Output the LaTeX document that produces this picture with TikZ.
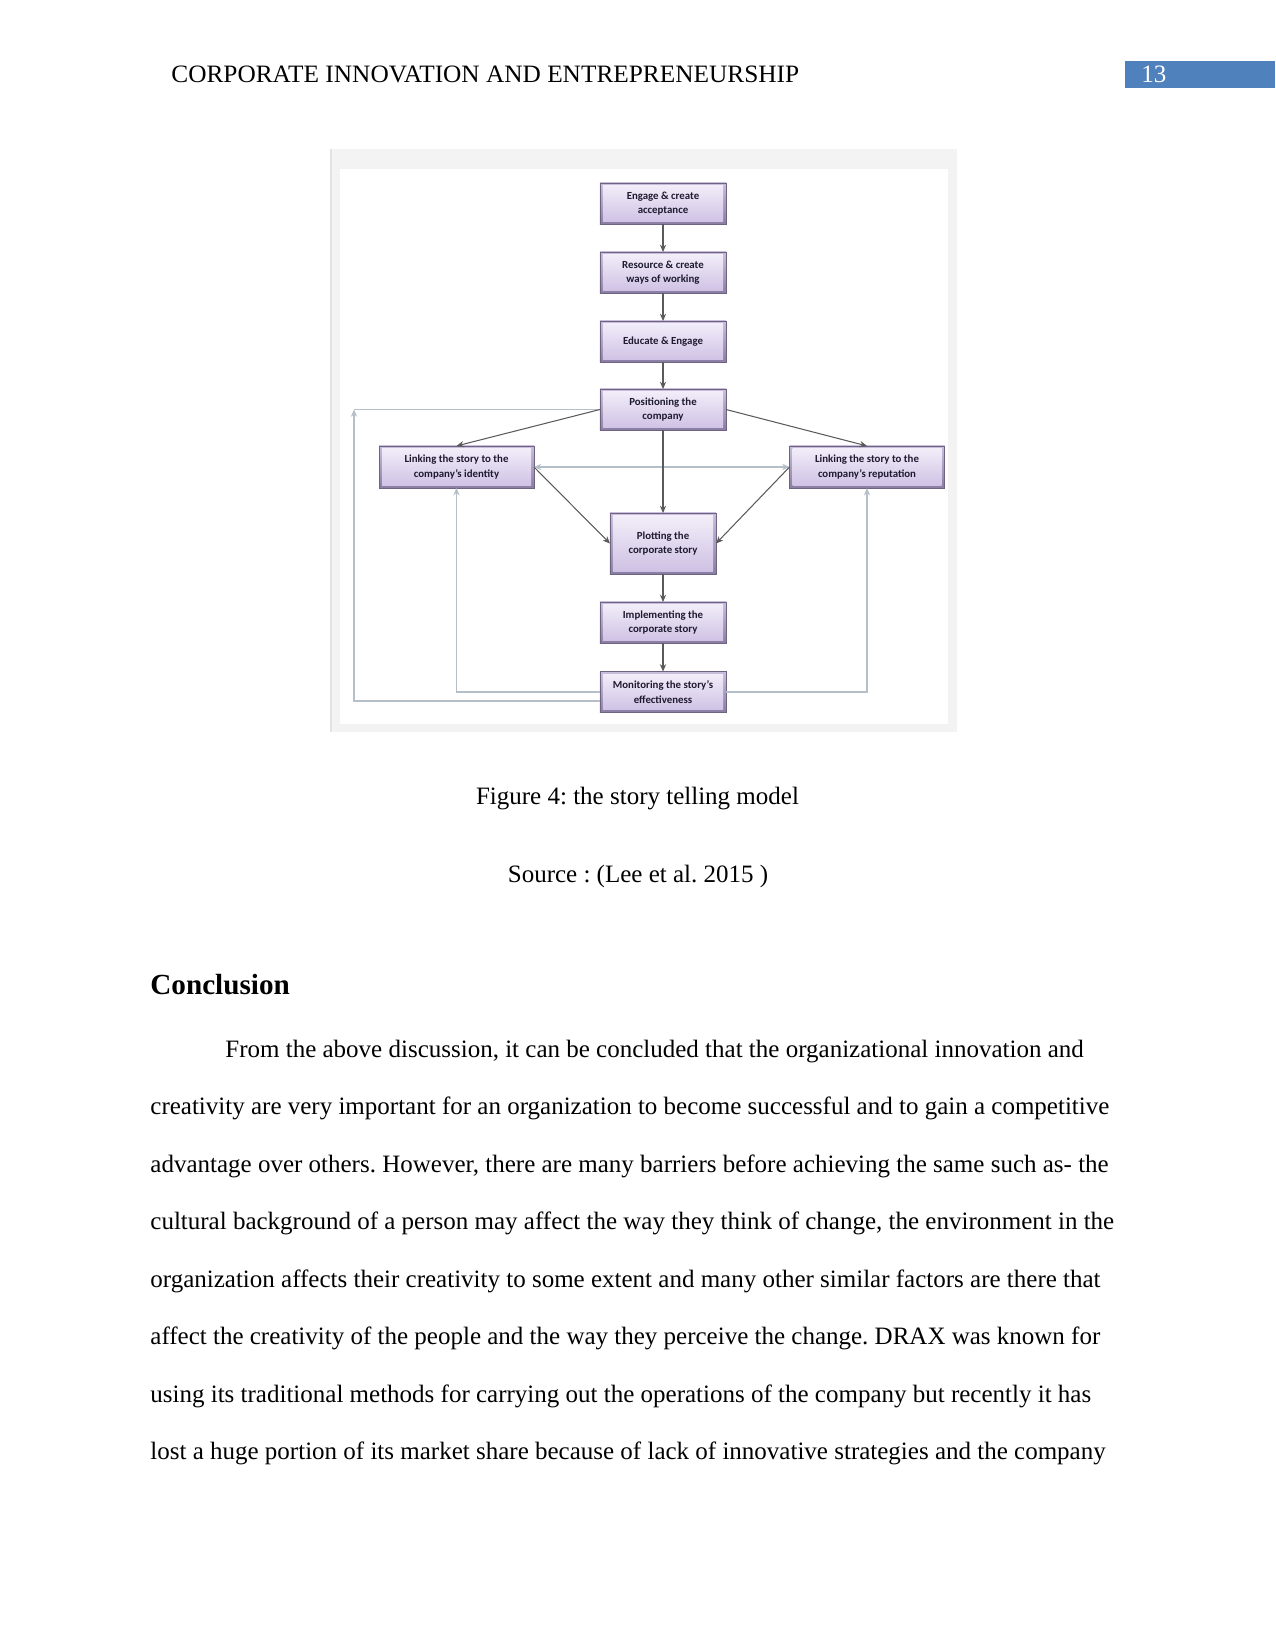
\documentclass[tikz,border=0pt]{standalone}
\usepackage{fontspec}
\setmainfont{Liberation Serif}
\newfontfamily\boxfont{Carlito}
\usetikzlibrary{arrows.meta}
\frenchspacing
\definecolor{pgblue}{HTML}{4F81BD}
\definecolor{bevtop}{HTML}{C9BEDC}
\definecolor{bevbot}{HTML}{8A7DA3}
\definecolor{facetop}{HTML}{F4F0FA}
\definecolor{facebot}{HTML}{CDBFE3}
\definecolor{boxtext}{HTML}{1E1A30}
\definecolor{arrgray}{HTML}{5A5A5A}
\definecolor{loopgray}{HTML}{B5BFC9}
\definecolor{framegray}{HTML}{F3F3F3}
\begin{document}
\begin{tikzpicture}[x=0.48pt,y=-0.48pt,
  sbox/.style={rectangle, inner sep=0pt, outer sep=0pt, top color=bevtop, bottom color=bevbot,
    draw=bevbot!80!black, line width=0.3pt, align=center,
    font=\boxfont\bfseries\fontsize{5.2}{7}\selectfont, text=boxtext,
    path picture={\shade[top color=facetop, bottom color=facebot]
      ([shift={(3,3)}]path picture bounding box.north west) rectangle
      ([shift={(-3,-3)}]path picture bounding box.south east);}},
  mainbox/.style={sbox, minimum width=60.5pt, minimum height=19.7pt},
  sidebox/.style={sbox, minimum width=74.4pt, minimum height=20.2pt},
  plotbox/.style={sbox, minimum width=50.9pt, minimum height=29.3pt},
  arr/.style={draw=arrgray, line width=0.5pt, -{Stealth[length=3.5pt,width=3pt]}},
  loopline/.style={draw=loopgray, line width=0.55pt},
  looparr/.style={loopline, -{Stealth[length=3.5pt,width=3pt]}},
  bodytext/.style={anchor=base west, inner sep=0pt, font=\fontsize{12}{14}\selectfont},
]
\useasboundingbox (0,0) rectangle (1275,1650);
\fill[white] (0,0) rectangle (1275,1650);

% header
\node[bodytext] (hdr) at (171,83) {\scalebox{1.013}[1]{CORPORATE INNOVATION AND ENTREPRENEURSHIP}};
\fill[pgblue] (1125,61) rectangle (1275,88);
\node[bodytext, text=white] (pg) at (1141,83) {13};

% figure frame
\fill[framegray] (331,149) rectangle (957,732);
\draw[gray!22, line width=0.5pt] (331,149) -- (331,732);
\fill[white] (340,169) rectangle (948,724);

% boxes
\node[mainbox] (eng) at (663,203.5) {Engage \& create\\acceptance};
\node[mainbox] (res) at (663,272.5) {Resource \& create\\ways of working};
\node[mainbox] (edu) at (663,341.5) {Educate \& Engage};
\node[mainbox] (pos) at (663,409.5) {Positioning the\\company};
\node[sidebox] (lid) at (456.5,467) {Linking the story to the\\company’s identity};
\node[sidebox] (lrep) at (867,467) {Linking the story to the\\company’s reputation};
\node[plotbox] (plot) at (663,543.5) {Plotting the\\corporate story};
\node[mainbox] (impl) at (663,622.5) {Implementing the\\corporate story};
\node[mainbox] (mon) at (663,692) {Monitoring the story’s\\effectiveness};

\coordinate (c1) at (354,409.5);

% loop lines
\draw[looparr] ([yshift=-4.3pt]mon.west) -| (c1);
\draw[loopline] (c1) -- (pos.west);
\draw[looparr] (mon.west) -| (lid.south);
\draw[looparr] (mon.east) -| (lrep.south);
\draw[loopline, {Stealth[length=3.5pt,width=3pt]}-{Stealth[length=3.5pt,width=3pt]}] (lid.east) -- (lrep.west);

% main arrows
\draw[arr] (eng.south) -- (res.north);
\draw[arr] (res.south) -- (edu.north);
\draw[arr] (edu.south) -- (pos.north);
\draw[arr] (pos.west) -- (lid.north);
\draw[arr] (pos.east) -- (lrep.north);
\draw[arr] (pos.south) -- (plot.north);
\draw[arr] (lid.east) -- (plot.west);
\draw[arr] (lrep.west) -- (plot.east);
\draw[arr] (plot.south) -- (impl.north);
\draw[arr] (impl.south) -- (mon.north);

% captions
\node[anchor=base, inner sep=0pt, font=\fontsize{12}{14}\selectfont] (cap) at (637.5,804) {Figure 4: the story telling model};
\node[anchor=base, inner sep=0pt, font=\fontsize{12}{14}\selectfont] (src) at (638,882) {Source : (Lee et al. 2015 )};

% conclusion
\node[anchor=base west, inner sep=0pt, font=\fontsize{14}{16}\selectfont\bfseries] (conc) at (150,994) {Conclusion};
\node[bodytext] (l1) at (225,1057) {From the above discussion, it can be concluded that the organizational innovation and};
\node[bodytext] (l2) at (150,1114.5) {creativity are very important for an organization to become successful and to gain a competitive};
\node[bodytext] (l3) at (150,1172) {advantage over others. However, there are many barriers before achieving the same such as- the};
\node[bodytext] (l4) at (150,1229.5) {cultural background of a person may affect the way they think of change, the environment in the};
\node[bodytext] (l5) at (150,1287) {organization affects their creativity to some extent and many other similar factors are there that};
\node[bodytext] (l6) at (150,1344.5) {affect the creativity of the people and the way they perceive the change. DRAX was known for};
\node[bodytext] (l7) at (150,1402) {using its traditional methods for carrying out the operations of the company but recently it has};
\node[bodytext] (l8) at (150,1459.5) {lost a huge portion of its market share because of lack of innovative strategies and the company};
\end{tikzpicture}
\end{document}
